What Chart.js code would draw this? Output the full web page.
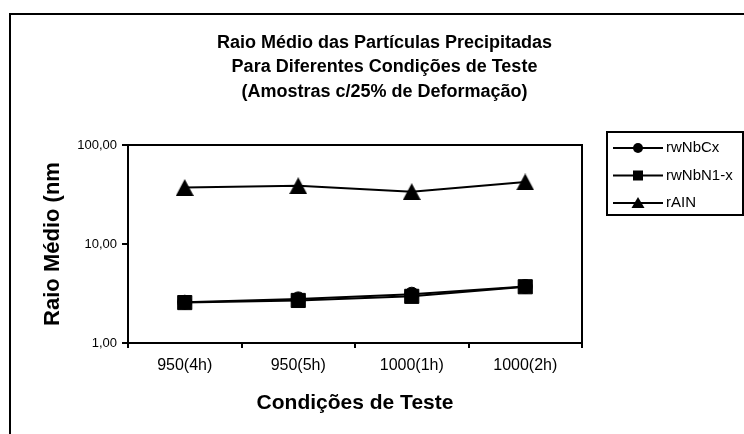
<!DOCTYPE html>
<html>
<head>
<meta charset="utf-8">
<script src="https://cdn.jsdelivr.net/npm/chart.js@4"></script>
<style>
  html, body { margin: 0; padding: 0; background: #fff; }
  canvas { display: block; }
</style>
</head>
<body>
<canvas id="chart" width="744" height="434"></canvas>
<script>
// Test conditions (temperature, hold time)
const categories = ['950(4h)', '950(5h)', '1000(1h)', '1000(2h)'];

// Mean particle radius (nm) per precipitate type
const rwNbCx  = [2.58, 2.79, 3.11, 3.72];
const rwNbN1x = [2.56, 2.69, 2.96, 3.70];
const rAIN    = [37.2, 38.8, 33.8, 42.3];

const seriesNames = ['rwNbCx', 'rwNbN1-x', 'rAIN'];
const yTickValues = [1, 10, 100];
const titleLines = [
  'Raio Médio das Partículas Precipitadas',
  'Para Diferentes Condições de Teste',
  '(Amostras c/25% de Deformação)'
];
const xTitle = 'Condições de Teste';
const yTitle = 'Raio Médio (nm';

const FONT = '"Liberation Sans", Arial, Helvetica, sans-serif';

// Solid triangle marker drawn on a small canvas
function triangleMarker(w, h) {
  const c = document.createElement('canvas');
  c.width = w; c.height = h;
  const g = c.getContext('2d');
  g.fillStyle = '#000';
  g.beginPath();
  g.moveTo(w / 2, 0);
  g.lineTo(w, h);
  g.lineTo(0, h);
  g.closePath();
  g.fill();
  return c;
}
const triBig = triangleMarker(18, 17);

// Outer frame, plot box and multi-line title
const framePlugin = {
  id: 'frame',
  beforeDraw(chart) {
    const ctx = chart.ctx;
    ctx.save();
    ctx.fillStyle = '#fff';
    ctx.fillRect(0, 0, chart.width, chart.height);
    ctx.strokeStyle = '#000';
    ctx.lineWidth = 2;
    ctx.strokeRect(10, 14, chart.width + 20, chart.height + 20);
    ctx.restore();
  },
  afterDraw(chart) {
    const ctx = chart.ctx;
    const a = chart.chartArea;
    ctx.save();
    ctx.strokeStyle = '#000';
    ctx.lineWidth = 2;
    ctx.strokeRect(a.left, a.top, a.right - a.left, a.bottom - a.top);

    ctx.fillStyle = '#000';
    ctx.font = 'bold 18px ' + FONT;
    ctx.textAlign = 'center';
    ctx.textBaseline = 'middle';
    titleLines.forEach((t, i) => ctx.fillText(t, 384.5, 43 + i * 24.5));
    ctx.restore();
  }
};

// Boxed legend on the right
const boxLegendPlugin = {
  id: 'boxLegend',
  afterDraw(chart) {
    const ctx = chart.ctx;
    const box = { x: 607, y: 132, w: 136, h: 83 };
    ctx.save();
    ctx.strokeStyle = '#000';
    ctx.lineWidth = 2;
    ctx.strokeRect(box.x, box.y, box.w, box.h);
    ctx.font = '15px ' + FONT;
    ctx.textAlign = 'left';
    ctx.textBaseline = 'middle';
    chart.data.datasets.forEach((ds, i) => {
      const y = 148 + i * 27.5;
      ctx.strokeStyle = '#000';
      ctx.lineWidth = 2;
      ctx.beginPath();
      ctx.moveTo(613, y);
      ctx.lineTo(663, y);
      ctx.stroke();
      ctx.fillStyle = '#000';
      const mx = 638;
      if (ds.pointStyle === 'circle') {
        ctx.beginPath();
        ctx.arc(mx, y, 5, 0, Math.PI * 2);
        ctx.fill();
      } else if (ds.pointStyle === 'rect') {
        ctx.fillRect(mx - 5, y - 5, 10, 10);
      } else {
        ctx.beginPath();
        ctx.moveTo(mx, y - 6);
        ctx.lineTo(mx + 6.5, y + 5);
        ctx.lineTo(mx - 6.5, y + 5);
        ctx.closePath();
        ctx.fill();
      }
      ctx.fillStyle = '#000';
      ctx.fillText(ds.label, 666, y);
    });
    ctx.restore();
  }
};

const baseLine = {
  borderColor: '#000',
  borderWidth: 2,
  pointBackgroundColor: '#000',
  pointBorderColor: '#000',
  pointBorderWidth: 1,
  tension: 0,
  fill: false
};

new Chart(document.getElementById('chart'), {
  type: 'line',
  data: {
    labels: categories,
    datasets: [
      Object.assign({}, baseLine, { label: seriesNames[0], data: rwNbCx,  pointStyle: 'circle', pointRadius: 7, order: 2 }),
      Object.assign({}, baseLine, { label: seriesNames[1], data: rwNbN1x, pointStyle: 'rect',   pointRadius: 10, order: 1 }),
      Object.assign({}, baseLine, { label: seriesNames[2], data: rAIN,    pointStyle: triBig,   pointRadius: 9, order: 0 })
    ]
  },
  options: {
    responsive: false,
    animation: false,
    events: [],
    layout: { padding: { left: 10, right: 162, top: 145, bottom: 0 } },
    plugins: {
      legend: { display: false },
      title: { display: false },
      tooltip: { enabled: false }
    },
    scales: {
      x: {
        type: 'category',
        offset: true,
        border: { display: false },
        grid: { offset: true, drawOnChartArea: false, drawTicks: true, tickLength: 5, color: '#000', lineWidth: 2 },
        ticks: { color: '#000', padding: 8, font: { family: FONT, size: 16 }, maxRotation: 0, autoSkip: false },
        title: { display: true, text: xTitle, color: '#000', font: { family: FONT, size: 21, weight: 'bold' }, padding: { top: 0, bottom: 18 } },
        afterFit(scale) { scale.height = 91; }
      },
      y: {
        type: 'logarithmic',
        min: 1,
        max: 100,
        border: { display: false },
        grid: { drawOnChartArea: false, drawTicks: true, tickLength: 6, color: '#000', lineWidth: 2 },
        ticks: {
          color: '#000',
          padding: 5,
          font: { family: FONT, size: 13 },
          callback: (v) => Number(v).toFixed(2).replace('.', ',')
        },
        afterBuildTicks(scale) { scale.ticks = yTickValues.map(v => ({ value: v })); },
        title: { display: true, text: yTitle, color: '#000', font: { family: FONT, size: 22, weight: 'bold' }, padding: { top: 30, bottom: 0 } },
        afterFit(scale) { scale.width = 118; }
      }
    }
  },
  plugins: [framePlugin, boxLegendPlugin]
});
</script>
</body>
</html>
